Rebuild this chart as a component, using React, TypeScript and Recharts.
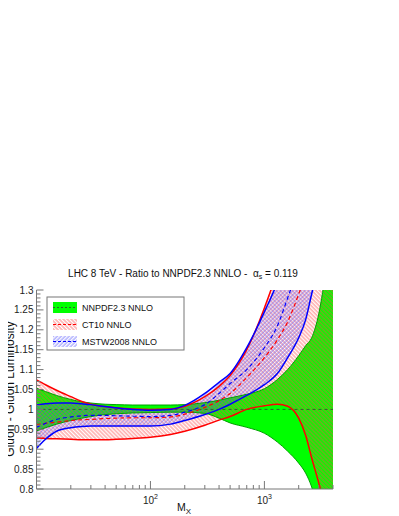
import { ComposedChart, Area, Line, XAxis, YAxis, ReferenceLine } from "recharts";

// invariant mass M_X (GeV), common grid for all bands
const massGeV = [10, 12, 15, 20, 25, 30, 40, 50, 70, 100, 150, 200, 300, 400, 500, 700, 1000, 1300, 1600, 2000, 2300, 2600, 3000, 3500, 4000];

// NNPDF2.3 NNLO band (ratio to its own central value)
const nnpdfHi = [1.053, 1.045, 1.035, 1.025, 1.019, 1.016, 1.013, 1.012, 1.011, 1.011, 1.011, 1.012, 1.017, 1.023, 1.029, 1.038, 1.052, 1.075, 1.1, 1.135, 1.16, 1.18, 1.24, 1.36, 1.5];
const nnpdfLo = [0.946, 0.954, 0.963, 0.972, 0.978, 0.982, 0.987, 0.989, 0.991, 0.992, 0.993, 0.993, 0.99, 0.978, 0.966, 0.955, 0.94, 0.918, 0.895, 0.865, 0.84, 0.805, 0.74, 0.64, 0.5];

// CT10 NNLO
const ct10Hi = [1.074, 1.062, 1.048, 1.032, 1.02, 1.013, 1.007, 1.004, 1.001, 1.0, 1.001, 1.008, 1.032, 1.058, 1.085, 1.15, 1.255, 1.35, 1.45, 1.6, 1.7, 1.8, 1.95, 2.15, 2.35];
const ct10Mid = [0.962, 0.965, 0.968, 0.972, 0.974, 0.975, 0.977, 0.978, 0.979, 0.979, 0.981, 0.988, 1.005, 1.022, 1.04, 1.08, 1.13, 1.175, 1.22, 1.29, 1.34, 1.4, 1.48, 1.58, 1.7];
const ct10Lo = [0.928, 0.927, 0.926, 0.925, 0.924, 0.924, 0.924, 0.925, 0.927, 0.93, 0.937, 0.945, 0.96, 0.973, 0.982, 1.0, 1.009, 1.013, 1.008, 0.978, 0.935, 0.878, 0.815, 0.74, 0.66];

// MSTW2008 NNLO
const mstwHi = [1.011, 1.014, 1.016, 1.016, 1.014, 1.012, 1.007, 1.004, 1.0, 0.998, 1.0, 1.01, 1.04, 1.068, 1.09, 1.155, 1.245, 1.32, 1.4, 1.52, 1.6, 1.7, 1.8, 1.95, 2.1];
const mstwMid = [0.955, 0.965, 0.975, 0.981, 0.984, 0.985, 0.985, 0.984, 0.983, 0.982, 0.985, 0.993, 1.012, 1.04, 1.065, 1.1, 1.155, 1.21, 1.28, 1.36, 1.42, 1.48, 1.56, 1.66, 1.78];
const mstwLo = [0.902, 0.925, 0.945, 0.954, 0.957, 0.958, 0.958, 0.958, 0.958, 0.958, 0.963, 0.972, 0.987, 1.0, 1.013, 1.035, 1.062, 1.09, 1.13, 1.18, 1.225, 1.29, 1.36, 1.45, 1.55];

// axis ticks
const xTicks = [10, 20, 30, 40, 50, 60, 70, 80, 90, 100, 200, 300, 400, 500, 600, 700, 800, 900, 1000, 2000, 3000, 4000];
const xMajor = [100, 1000];
const xMajorExp = ["2", "3"];
const yMajor = [0.8, 0.85, 0.9, 0.95, 1, 1.05, 1.1, 1.15, 1.2, 1.25, 1.3];
const yMajorLabels = ["0.8", "0.85", "0.9", "0.95", "1", "1.05", "1.1", "1.15", "1.2", "1.25", "1.3"];

const yTicks: number[] = [];
for (let i = 80; i <= 130; i++) yTicks.push(i / 100);

const rows = massGeV.map((m, i) => ({
  m,
  nnpdf: [nnpdfLo[i], nnpdfHi[i]],
  nnpdfLo: nnpdfLo[i],
  nnpdfHi: nnpdfHi[i],
  ct10: [ct10Lo[i], ct10Hi[i]],
  ct10Lo: ct10Lo[i],
  ct10Hi: ct10Hi[i],
  ct10Mid: ct10Mid[i],
  mstw: [mstwLo[i], mstwHi[i]],
  mstwLo: mstwLo[i],
  mstwHi: mstwHi[i],
  mstwMid: mstwMid[i],
}));

const FONT = "'Liberation Sans', Arial, Helvetica, sans-serif";
const AXIS = "#777";

const BottomTick = (props: any) => {
  const { x, y, payload } = props;
  const k = xMajor.indexOf(payload.value);
  const len = k >= 0 ? 8 : 4;
  return (
    <g>
      <line x1={x} y1={y} x2={x} y2={y - len} stroke={AXIS} />
      {k >= 0 && (
        <text x={x} y={y + 15} textAnchor="middle" fontSize={10} fontFamily={FONT} fill="#222">
          10<tspan dy={-5} fontSize={7}>{xMajorExp[k]}</tspan>
        </text>
      )}
    </g>
  );
};

const TopTick = (props: any) => {
  const { x, y, payload } = props;
  const len = xMajor.includes(payload.value) ? 8 : 4;
  return <line x1={x} y1={y} x2={x} y2={y + len} stroke={AXIS} />;
};

const LeftTick = (props: any) => {
  const { x, y, payload } = props;
  const k = yMajor.findIndex((v) => Math.abs(v - payload.value) < 1e-6);
  const len = k >= 0 ? 7 : 4;
  return (
    <g>
      <line x1={x} y1={y} x2={x + len} y2={y} stroke={AXIS} />
      {k >= 0 && (
        <text x={x - 3} y={y + 3.5} textAnchor="end" fontSize={10} fontFamily={FONT} fill="#222">
          {yMajorLabels[k]}
        </text>
      )}
    </g>
  );
};

const Overlay = () => (
  <svg
    width={399}
    height={516}
    style={{ position: "absolute", left: -8, top: -8, pointerEvents: "none", overflow: "visible" }}
    fontFamily={FONT}
  >
    <defs>
      <pattern id="ctHatch" patternUnits="userSpaceOnUse" width={2.8} height={2.8} patternTransform="rotate(-45)">
        <line x1={1} y1={0} x2={1} y2={2.8} stroke="#ff4545" strokeWidth={0.7} />
      </pattern>
      <pattern id="mstwHatch" patternUnits="userSpaceOnUse" width={2.8} height={2.8} patternTransform="rotate(45)">
        <line x1={1} y1={0} x2={1} y2={2.8} stroke="#4545ff" strokeWidth={0.65} />
      </pattern>
    </defs>

    <text x={183} y={277} textAnchor="middle" fontSize={10} fill="#111" style={{ whiteSpace: "pre" }}>
      {"LHC 8 TeV - Ratio to NNPDF2.3 NNLO -  \u03b1"}
      <tspan dy={2} fontSize={7}>s</tspan>
      <tspan dy={-2}>{" = 0.119"}</tspan>
    </text>

    <text transform="translate(14,389) rotate(-90)" textAnchor="middle" fontSize={12} fill="#111">
      Gluon - Gluon Luminosity
    </text>

    <text x={177} y={511} fontSize={10.5} fill="#111">
      M<tspan dy={2.5} fontSize={8}>X</tspan>
    </text>

    {/* legend */}
    <rect x={47} y={297} width={137} height={53} fill="#fff" stroke={AXIS} />
    <rect x={53} y={302} width={24} height={11} fill="#00ff00" />
    <line x1={53} y1={307.5} x2={77} y2={307.5} stroke="#2f5f2f" strokeDasharray="2 2" />
    <text x={82} y={310.5} fontSize={9} fill="#111">NNPDF2.3 NNLO</text>

    <rect x={53} y={319} width={24} height={11} fill="url(#ctHatch)" />
    <line x1={53} y1={324.5} x2={77} y2={324.5} stroke="#ff0000" strokeDasharray="3 2" />
    <text x={82} y={327.5} fontSize={9} fill="#111">CT10 NNLO</text>

    <rect x={53} y={336} width={24} height={11} fill="url(#mstwHatch)" />
    <line x1={53} y1={341.5} x2={77} y2={341.5} stroke="#0000ff" strokeDasharray="3 2" />
    <text x={82} y={344.5} fontSize={9} fill="#111">MSTW2008 NNLO</text>
  </svg>
);

const App = () => {
  return (
    <div style={{ position: "relative", width: 391, height: 508 }}>
      <ComposedChart width={391} height={508} data={rows} margin={{ top: 282, right: 66, bottom: 0, left: 0 }}>
        <XAxis
          dataKey="m"
          type="number"
          scale="log"
          domain={[10, 4000]}
          allowDataOverflow
          ticks={xTicks}
          interval={0}
          height={27}
          tickSize={0}
          tickMargin={0}
          tickLine={false}
          tick={<BottomTick />}
          axisLine={{ stroke: AXIS }}
        />
        <XAxis
          xAxisId="top"
          dataKey="m"
          type="number"
          scale="log"
          orientation="top"
          domain={[10, 4000]}
          allowDataOverflow
          ticks={xTicks}
          interval={0}
          height={0}
          tickSize={0}
          tickMargin={0}
          tickLine={false}
          tick={<TopTick />}
          axisLine={{ stroke: AXIS }}
        />
        <YAxis
          type="number"
          domain={[0.8, 1.3]}
          allowDataOverflow
          ticks={yTicks}
          interval={0}
          width={28.5}
          tickSize={0}
          tickMargin={0}
          tickLine={false}
          tick={<LeftTick />}
          axisLine={{ stroke: AXIS }}
        />

        <Area type="monotone" dataKey="nnpdf" fill="#00ff00" fillOpacity={1} stroke="none" isAnimationActive={false} />
        <Line type="monotone" dataKey="nnpdfLo" stroke="#00a000" strokeWidth={1} dot={false} activeDot={false} isAnimationActive={false} />
        <Line type="monotone" dataKey="nnpdfHi" stroke="#00a000" strokeWidth={1} dot={false} activeDot={false} isAnimationActive={false} />

        <Area type="monotone" dataKey="ct10" fill="url(#ctHatch)" fillOpacity={1} stroke="none" isAnimationActive={false} />
        <Area type="monotone" dataKey="mstw" fill="url(#mstwHatch)" fillOpacity={1} stroke="none" isAnimationActive={false} />

        <ReferenceLine y={1} stroke="#2f5f2f" strokeDasharray="3 3" />

        <Line type="monotone" dataKey="ct10Hi" stroke="#ff0000" strokeWidth={1.5} dot={false} activeDot={false} isAnimationActive={false} />
        <Line type="monotone" dataKey="ct10Lo" stroke="#ff0000" strokeWidth={1.5} dot={false} activeDot={false} isAnimationActive={false} />
        <Line type="monotone" dataKey="ct10Mid" stroke="#ff0000" strokeWidth={1.2} strokeDasharray="4 3" dot={false} activeDot={false} isAnimationActive={false} />

        <Line type="monotone" dataKey="mstwHi" stroke="#0000ff" strokeWidth={1.5} dot={false} activeDot={false} isAnimationActive={false} />
        <Line type="monotone" dataKey="mstwLo" stroke="#0000ff" strokeWidth={1.5} dot={false} activeDot={false} isAnimationActive={false} />
        <Line type="monotone" dataKey="mstwMid" stroke="#0000ff" strokeWidth={1.2} strokeDasharray="4 3" dot={false} activeDot={false} isAnimationActive={false} />
      </ComposedChart>
      <Overlay />
    </div>
  );
};

export default App;
